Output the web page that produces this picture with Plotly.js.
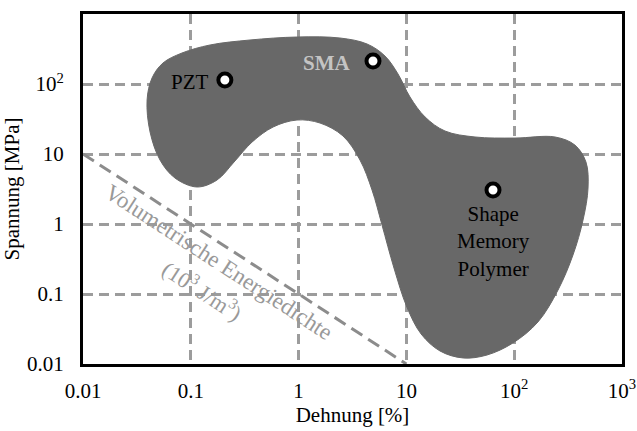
<!DOCTYPE html>
<html>
<head>
<meta charset="utf-8">
<script src="https://cdn.plot.ly/plotly-3.0.1.min.js"></script>
<style>html,body{margin:0;padding:0;background:#fff;}#chart{width:637px;height:431px;}</style>
</head>
<body>
<div id="chart"></div>
<script>
// Region outline (Dehnung [%], Spannung [MPa]) traced clockwise
var regionStrain = [0.0393,0.0437,0.0552,0.0828,0.151,0.354,0.966,2.42,4.31,6.33,8.36,10.8,14.9,22.8,43.3,101.6,239,366,463,484,435,351,255,166,97.5,56.0,33.5,20.5,13.7,10.1,7.67,5.94,4.80,3.71,2.58,1.58,0.966,0.580,0.370,0.252,0.175,0.114,0.0713,0.0518,0.0419,0.0393];
var regionStress = [59.1,121.8,199.5,277,361,425,469,454,373,251,139,65.2,33.8,21.3,17.5,16.9,17.5,13.4,7.69,3.27,1.14,0.361,0.114,0.0398,0.0200,0.01345,0.0122,0.01534,0.0268,0.0652,0.235,0.968,3.06,8.21,18.1,27.7,30.6,24.3,14.8,7.69,4.25,3.38,4.54,8.21,20.6,59.1];

// Materials
var materials = ['PZT','SMA','Shape<br>Memory<br>Polymer'];
var matStrain = [0.207, 4.9, 63.6];
var matStress = [114, 213, 3.06];

// Energy density line
var energyStrain = [0.01, 10];
var energyStress = [10, 0.01];

// Ticks
var tickVals = [0.01, 0.1, 1, 10, 100, 1000];
var tickText = ['0.01','0.1','1','10','10<sup>2</sup>','10<sup>3</sup>'];

var serif = 'Liberation Serif';
var lg = Math.log10;

var traces = [
  {x: energyStrain, y: energyStress, mode: 'lines', type: 'scatter',
   line: {color: '#8c8c8c', width: 3, dash: '13px,7px'}, hoverinfo: 'skip', showlegend: false},
  {x: regionStrain, y: regionStress, mode: 'lines', type: 'scatter', fill: 'toself',
   fillcolor: '#686868', line: {color: '#686868', width: 1, shape: 'spline', smoothing: 1},
   hoverinfo: 'skip', showlegend: false},
  {x: matStrain, y: matStress, mode: 'markers', type: 'scatter',
   marker: {symbol: 'circle', size: 13, color: '#ffffff', line: {color: '#000000', width: 4}},
   showlegend: false}
];

var axisCommon = {
  type: 'log', showline: true, linecolor: '#000', linewidth: 3, mirror: true,
  showgrid: true, gridcolor: '#9c9c9c', gridwidth: 3, griddash: '10px,6px',
  ticks: '', tickvals: tickVals, ticktext: tickText,
  tickfont: {family: serif, size: 21, color: '#000'}, zeroline: false
};

var layout = {
  width: 637, height: 431,
  margin: {l: 83, r: 15, t: 14, b: 67},
  paper_bgcolor: '#fff', plot_bgcolor: '#fff',
  font: {family: serif, color: '#000'},
  xaxis: Object.assign({}, axisCommon, {range: [-2, 3], ticklabelstandoff: 6,
    title: {text: 'Dehnung [%]', font: {family: serif, size: 21, color: '#000'}, standoff: 6}}),
  yaxis: Object.assign({}, axisCommon, {range: [-2, 3], ticklabelstandoff: 12,
    title: {text: 'Spannung [MPa]', font: {family: serif, size: 21, color: '#000'}, standoff: 12}}),
  annotations: [
    {x: lg(matStrain[0]), y: lg(matStress[0]), xref: 'x', yref: 'y', text: materials[0],
     showarrow: false, xanchor: 'right', xshift: -14, yshift: -2,
     font: {family: serif, size: 21, color: '#000'}},
    {x: lg(matStrain[1]), y: lg(matStress[1]), xref: 'x', yref: 'y', text: '<b>' + materials[1] + '</b>',
     showarrow: false, xanchor: 'right', xshift: -20, yshift: -2,
     font: {family: serif, size: 21, color: '#c4c4c4'}},
    {x: lg(matStrain[2]), y: lg(matStress[2]), xref: 'x', yref: 'y', text: materials[2],
     showarrow: false, xanchor: 'center', yanchor: 'top', yshift: -10,
     font: {family: serif, size: 21, color: '#000'}},
    {x: -0.735, y: -0.548, xref: 'x', yref: 'y', text: 'Volumetrische Energiedichte',
     showarrow: false, textangle: 33, font: {family: serif, size: 23, color: '#999'}},
    {x: -0.887, y: -0.943, xref: 'x', yref: 'y', text: '(10<sup>3</sup> J/m<sup>3</sup>)',
     showarrow: false, textangle: 33, font: {family: serif, size: 22, color: '#999'}}
  ]
};

Plotly.newPlot('chart', traces, layout, {staticPlot: true, displayModeBar: false});
</script>
</body>
</html>
